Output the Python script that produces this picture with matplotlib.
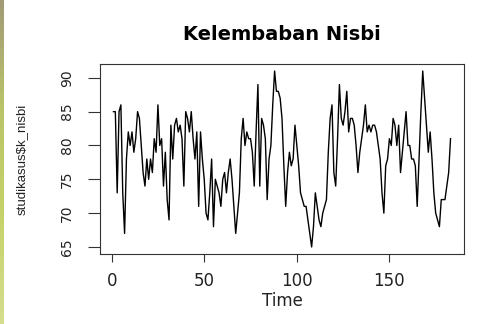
import numpy as np
import matplotlib
matplotlib.use("Agg")
import matplotlib.pyplot as plt

title = "Kelembaban Nisbi"
xlabel = "Time"
ylabel = "studikasus$k_nisbi"
xticks = [0, 50, 100, 150]
yticks = [65, 70, 75, 80, 85, 90]

k_nisbi = [
    85, 85, 73, 85, 86, 73, 67, 78, 82, 80,
    82, 79, 81, 85, 84, 80, 76, 74, 78, 75,
    78, 76, 81, 79, 86, 80, 81, 74, 79, 72,
    69, 83, 78, 83, 84, 82, 83, 81, 74, 85,
    84, 82, 85, 81, 78, 82, 71, 82, 78, 75,
    70, 69, 73, 78, 68, 75, 74, 73, 71, 75,
    76, 73, 76, 78, 75, 71, 67, 70, 73, 81,
    84, 80, 82, 81, 81, 79, 74, 82, 89, 74,
    84, 83, 81, 72, 78, 80, 86, 91, 88, 88,
    87, 84, 77, 71, 76, 79, 77, 78, 83, 80,
    77, 73, 72, 71, 71, 69, 67, 65, 68, 73,
    71, 69, 68, 70, 71, 72, 79, 84, 86, 76,
    74, 81, 89, 84, 83, 85, 88, 82, 84, 84,
    83, 80, 76, 79, 81, 83, 86, 82, 83, 82,
    83, 83, 82, 80, 78, 73, 70, 77, 78, 81,
    80, 84, 83, 80, 83, 76, 79, 82, 85, 80,
    80, 78, 78, 77, 71, 78, 85, 91, 87, 83,
    79, 82, 78, 73, 70, 69, 68, 72, 72, 72,
    74, 76, 81,
]
time = np.arange(1, len(k_nisbi) + 1)

W, H = 503, 324
fig = plt.figure(figsize=(W / 100, H / 100), dpi=100)
fig.patch.set_facecolor("white")

# left decorative gradient strip
sax = fig.add_axes([0, 0, 4 / W, 1])
grad = np.linspace(0, 1, 256).reshape(-1, 1)
cmap = matplotlib.colors.LinearSegmentedColormap.from_list(
    "strip", ["#a29a78", "#b9c468", "#c5d36a", "#d4de8e"])
sax.imshow(grad, aspect="auto", cmap=cmap, extent=[0, 1, 0, 1])
sax.axis("off")

ax = fig.add_axes([100 / W, 1 - 254 / H, 364 / W, 190 / H])
ax.plot(time, k_nisbi, color="black", lw=1.0)

vals = np.array(k_nisbi)
xr = time[-1] - time[0]
ax.set_xlim(time[0] - 0.04 * xr, time[-1] + 0.04 * xr)
yr = vals.max() - vals.min()
ax.set_ylim(vals.min() - 0.04 * yr, vals.max() + 0.04 * yr)

ax.set_xticks(xticks)
ax.set_yticks(yticks)
ax.set_xticklabels([str(v) for v in xticks], family="DejaVu Sans", fontsize=12, color="#222222")
ax.set_yticklabels([str(v) for v in yticks], family="DejaVu Sans", fontsize=10,
                   rotation=90, va="center", color="#222222")
ax.tick_params(axis="x", length=6, width=0.8, pad=7, color="#333333")
ax.tick_params(axis="y", length=8.5, width=0.8, pad=10, color="#333333")
for s in ax.spines.values():
    s.set_linewidth(0.8)
    s.set_color("#333333")

fig.text(282 / W, 1 - 35 / H, title, ha="center", va="center",
         family="DejaVu Sans", fontweight="bold", fontsize=14)
fig.text(282 / W, 1 - 301 / H, xlabel, ha="center", va="center",
         family="DejaVu Sans", fontsize=12, color="#222222")
fig.text(22 / W, 1 - 159 / H, ylabel, ha="center", va="center", rotation=90,
         family="Liberation Sans", fontsize=9.5, color="#222222")

fig.savefig("out.png", dpi=100)
